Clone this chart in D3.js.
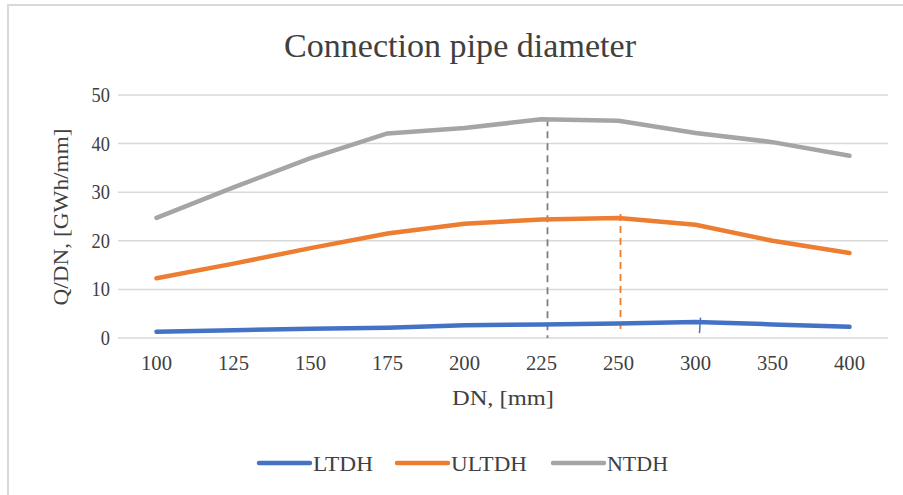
<!DOCTYPE html>
<html><head><meta charset="utf-8">
<script src="https://cdn.jsdelivr.net/npm/d3@7"></script>
<style>body{margin:0;background:#fff}svg{display:block}text{font-family:"Liberation Serif","Times New Roman",serif;fill:#404040}</style>
</head><body><svg id="c" width="903" height="495"></svg>
<script>
const categories = ["100","125","150","175","200","225","250","300","350","400"];
const LTDH  = [1.3, 1.6, 1.9, 2.1, 2.6, 2.8, 3.0, 3.3, 2.8, 2.3];
const ULTDH = [12.3, 15.3, 18.5, 21.5, 23.5, 24.4, 24.7, 23.3, 20.0, 17.5];
const NTDH  = [24.7, 31.0, 37.0, 42.1, 43.2, 45.0, 44.7, 42.2, 40.3, 37.5];
const yTicks = [0, 10, 20, 30, 40, 50];
const seriesNames = ["LTDH", "ULTDH", "NTDH"];
const colors = ["#4472C4", "#ED7D31", "#A5A5A5"];
// hand-drawn annotation markers: [category, top value, bottom value, series index]
const markers = [["225", 45.0, 0, 2], ["250", 25.5, 1.0, 1], ["300", 4.2, 1.0, 0]];

const svg = d3.select("#c");
const L = 118, R = 888, T = 95, B = 338;
const x = d3.scaleBand().domain(categories).range([L, R]);
const xc = c => x(c) + x.bandwidth() / 2;
const y = d3.scaleLinear().domain([0, 50]).range([B, T]);

// frame
svg.append("line").attr("x1", 8).attr("x2", 903).attr("y1", 5).attr("y2", 5).attr("stroke", "#D9D9D9").attr("stroke-width", 2);
svg.append("line").attr("x1", 8).attr("x2", 8).attr("y1", 4).attr("y2", 495).attr("stroke", "#D9D9D9").attr("stroke-width", 2);

// title
svg.append("text").attr("x", 460).attr("y", 57).attr("text-anchor", "middle")
  .attr("font-size", 34).attr("textLength", 352).attr("lengthAdjust", "spacingAndGlyphs")
  .text("Connection pipe diameter");

// gridlines
svg.append("g").selectAll("line").data(yTicks).join("line")
  .attr("x1", L).attr("x2", R).attr("y1", d => y(d)).attr("y2", d => y(d))
  .attr("stroke", "#D9D9D9").attr("stroke-width", 1.5);

// y axis labels
const ya = svg.append("g").attr("transform", `translate(${L - 8},0)`)
  .call(d3.axisLeft(y).tickValues(yTicks).tickSize(0).tickPadding(0));
ya.select(".domain").remove();
ya.selectAll("text").attr("font-size", 20).attr("font-family", "Liberation Serif").attr("fill", "#404040")
  .attr("transform", "scale(0.92,1)").attr("x", 0);

// x axis labels
const xa = svg.append("g").attr("transform", `translate(0,${B + 18})`)
  .call(d3.axisBottom(x).tickSize(0).tickPadding(0));
xa.select(".domain").remove();
xa.selectAll("text").attr("font-size", 20).attr("font-family", "Liberation Serif").attr("fill", "#404040")
  .attr("textLength", 31).attr("lengthAdjust", "spacingAndGlyphs");

// axis titles
svg.append("text").attr("transform", "translate(68,217) rotate(-90)").attr("text-anchor", "middle")
  .attr("font-size", 22).attr("textLength", 177).attr("lengthAdjust", "spacingAndGlyphs").text("Q/DN, [GWh/mm]");
svg.append("text").attr("x", 503).attr("y", 405).attr("text-anchor", "middle")
  .attr("font-size", 22).attr("textLength", 102).attr("lengthAdjust", "spacingAndGlyphs").text("DN, [mm]");

// markers (dashed)
const mk = svg.append("g");
mk.selectAll("line").data(markers).join("line")
  .attr("x1", d => xc(d[0]) + (d[3] === 2 ? 6 : d[3] === 1 ? 2 : 5))
  .attr("x2", d => xc(d[0]) + (d[3] === 2 ? 6 : d[3] === 1 ? 2 : 4))
  .attr("y1", d => y(d[1])).attr("y2", d => y(d[2]))
  .attr("stroke", d => d[3] === 2 ? "#7F7F7F" : colors[d[3]])
  .attr("stroke-width", d => d[3] === 0 ? 1.5 : 1.8)
  .attr("stroke-dasharray", d => d[3] === 0 ? null : "7,5");

// lines
const data = [LTDH, ULTDH, NTDH];
const line = d3.line().x((d, i) => xc(categories[i])).y(d => y(d));
svg.append("g").selectAll("path").data(data).join("path")
  .attr("d", line).attr("fill", "none")
  .attr("stroke", (d, i) => colors[i]).attr("stroke-width", 4.5)
  .attr("stroke-linecap", "round").attr("stroke-linejoin", "round");

// legend
const legX = [259, 397, 553];
const legW = [60, 76, 61];
const lg = svg.append("g").selectAll("g").data(seriesNames).join("g")
  .attr("transform", (d, i) => `translate(${legX[i]},463)`);
lg.append("line").attr("x1", 0).attr("x2", 51).attr("y1", 0).attr("y2", 0)
  .attr("stroke", (d, i) => colors[i]).attr("stroke-width", 4.5).attr("stroke-linecap", "round");
lg.append("text").attr("x", 54).attr("y", 8).attr("font-size", 22)
  .attr("textLength", (d, i) => legW[i]).attr("lengthAdjust", "spacingAndGlyphs").text(d => d);
</script></body></html>
